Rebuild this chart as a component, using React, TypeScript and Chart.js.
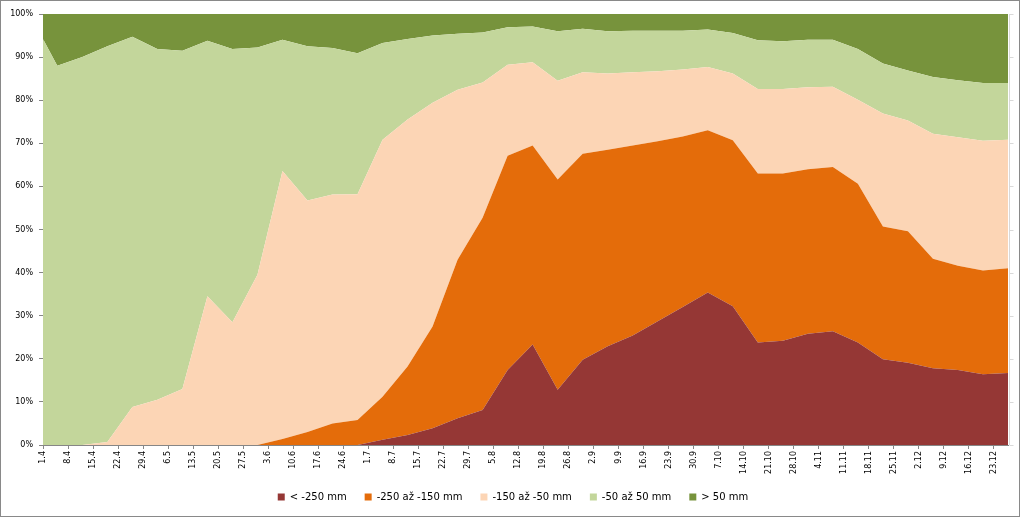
import React, { useEffect, useRef } from "react";
import { Chart, registerables } from "chart.js";

Chart.register(...registerables);

// Dates of the data points (day.month)
const pointDates = [
  "1.4", "5.4", "12.4", "19.4", "26.4", "3.5", "10.5", "17.5", "24.5", "31.5",
  "7.6", "14.6", "21.6", "28.6", "5.7", "12.7", "19.7", "26.7", "2.8", "9.8",
  "16.8", "23.8", "30.8", "6.9", "13.9", "20.9", "27.9", "4.10", "11.10", "18.10",
  "25.10", "1.11", "8.11", "15.11", "22.11", "29.11", "6.12", "13.12", "20.12", "27.12",
];

// Axis tick labels (weekly)
const tickLabels = [
  "1.4", "8.4", "15.4", "22.4", "29.4", "6.5", "13.5", "20.5", "27.5", "3.6",
  "10.6", "17.6", "24.6", "1.7", "8.7", "15.7", "22.7", "29.7", "5.8", "12.8",
  "19.8", "26.8", "2.9", "9.9", "16.9", "23.9", "30.9", "7.10", "14.10", "21.10",
  "28.10", "4.11", "11.11", "18.11", "25.11", "2.12", "9.12", "16.12", "23.12",
];

const seriesNames = ["< -250 mm", "-250 až -150 mm", "-150 až -50 mm", "-50 až 50 mm", "> 50 mm"];

const below250 = [
  0, 0, 0, 0, 0, 0, 0, 0, 0, 0,
  0, 0, 0, 0, 1.2, 2.3, 3.9, 6.2, 8.1, 17.4,
  23.3, 12.8, 19.8, 22.9, 25.4, 28.7, 32.0, 35.4, 32.2, 23.8,
  24.2, 25.8, 26.4, 23.8, 19.9, 19.1, 17.8, 17.4, 16.4, 16.7,
];
const from250to150 = [
  0, 0, 0, 0, 0, 0, 0, 0, 0, 0,
  1.4, 3.0, 5.0, 5.8, 10.0, 15.9, 23.6, 36.8, 44.6, 49.7,
  46.2, 48.8, 47.8, 45.6, 44.1, 41.8, 39.6, 37.6, 38.5, 39.2,
  38.8, 38.2, 38.1, 36.8, 30.8, 30.5, 25.4, 24.2, 24.1, 24.3,
];
const from150to50 = [
  0, 0, 0, 0.7, 8.8, 10.5, 13.0, 34.5, 28.5, 39.5,
  62.2, 53.7, 53.1, 52.4, 59.6, 57.3, 51.9, 39.4, 31.4, 21.1,
  19.3, 22.9, 18.9, 17.7, 17.0, 16.2, 15.5, 14.7, 15.5, 19.6,
  19.6, 19.0, 18.6, 19.5, 26.2, 25.7, 29.0, 29.8, 30.1, 29.8,
];
const from50to50 = [
  94.2, 88.0, 90.0, 91.8, 85.9, 81.4, 78.5, 59.3, 63.4, 52.7,
  30.4, 35.8, 34.0, 32.7, 22.5, 18.7, 15.6, 13.0, 11.6, 8.7,
  8.3, 11.5, 10.1, 9.8, 9.6, 9.4, 9.0, 8.7, 9.4, 11.3,
  11.1, 11.0, 10.9, 11.8, 11.6, 11.6, 13.2, 13.2, 13.4, 13.2,
];
const above50 = [
  5.8, 12.0, 10.0, 7.5, 5.3, 8.1, 8.5, 6.2, 8.1, 7.8,
  6.0, 7.5, 7.9, 9.1, 6.7, 5.8, 5.0, 4.6, 4.3, 3.1,
  2.9, 4.0, 3.4, 4.0, 3.9, 3.9, 3.9, 3.6, 4.4, 6.1,
  6.3, 6.0, 6.0, 8.1, 11.5, 13.1, 14.6, 15.4, 16.0, 16.0,
];

const seriesValues = [below250, from250to150, from150to50, from50to50, above50];
const seriesColors = ["#953735", "#E46C0A", "#FCD5B5", "#C3D69B", "#77933C"];

const dayOffset = (s: string) => {
  const [d, m] = s.split(".").map(Number);
  return Math.round((Date.UTC(2001, m - 1, d) - Date.UTC(2001, 3, 1)) / 86400000);
};

const framePlugin = {
  id: "frame",
  afterLayout(chart: any) {
    const lg = chart.legend;
    if (lg) {
      lg.left += 9;
      lg.right += 9;
    }
  },
  beforeDraw(chart: any) {
    const { ctx, width, height } = chart;
    ctx.save();
    ctx.fillStyle = "#ffffff";
    ctx.fillRect(0, 0, width, height);
    ctx.restore();
  },
  afterDraw(chart: any) {
    const { ctx, chartArea } = chart;
    ctx.save();
    ctx.strokeStyle = "#d9d9d9";
    ctx.lineWidth = 1;
    const x = Math.round(chartArea.right) + 1.5;
    ctx.beginPath();
    ctx.moveTo(x, chartArea.top);
    ctx.lineTo(x, chartArea.bottom);
    const yScale = chart.scales.y;
    for (let v = 0; v <= 100; v += 10) {
      const y = Math.round(yScale.getPixelForValue(v)) + 0.5;
      ctx.moveTo(x, y);
      ctx.lineTo(x + 4, y);
    }
    ctx.stroke();
    ctx.strokeStyle = "#898989";
    ctx.strokeRect(0.5, 0.5, 1019, 516);
    ctx.restore();
  },
};

export default function App() {
  const ref = useRef<HTMLCanvasElement>(null);

  useEffect(() => {
    document.body.style.margin = "0";
    const canvas = ref.current;
    if (!canvas) return;
    const xs = pointDates.map(dayOffset);
    const tickDays = tickLabels.map(dayOffset);
    const datasets = seriesNames.map((name, k) => ({
      label: name,
      data: seriesValues[k].map((v, i) => ({ x: xs[i], y: v })),
      backgroundColor: seriesColors[k],
      borderColor: seriesColors[k],
      borderWidth: 0,
      pointRadius: 0,
      tension: 0,
      fill: k === 0 ? "origin" : "-1",
    }));

    const chart = new Chart(canvas, {
      type: "line",
      data: { datasets: datasets as any },
      options: {
        responsive: false,
        animation: false,
        events: [],
        font: { family: "'DejaVu Sans', sans-serif" } as any,
        layout: { padding: { top: 14, right: 16, left: 0, bottom: 6 } },
        plugins: {
          legend: {
            position: "bottom",
            labels: {
              boxWidth: 7,
              boxHeight: 7,
              padding: 18,
              color: "#000",
              font: { family: "'DejaVu Sans', sans-serif", size: 10 },
            },
          },
          tooltip: { enabled: false },
        },
        scales: {
          x: {
            type: "linear",
            min: 0,
            max: dayOffset(pointDates[pointDates.length - 1]),
            afterBuildTicks: (scale: any) => {
              scale.ticks = tickDays.map((v) => ({ value: v }));
            },
            afterFit: (scale: any) => {
              scale.height = 29;
            },
            ticks: {
              autoSkip: false,
              minRotation: 90,
              maxRotation: 90,
              padding: 2,
              color: "#000",
              font: { family: "'DejaVu Sans', sans-serif", size: 8 },
              callback: (_v: any, i: number) => tickLabels[i],
            },
            grid: { drawOnChartArea: false, drawTicks: true, tickLength: 4, color: "#868686" },
            border: { color: "#868686" },
          },
          y: {
            stacked: true,
            min: 0,
            max: 100,
            afterFit: (scale: any) => {
              scale.width = 43;
            },
            ticks: {
              stepSize: 10,
              padding: 6,
              color: "#000",
              font: { family: "'DejaVu Sans', sans-serif", size: 8 },
              callback: (v: any) => v + "%",
            },
            grid: { drawOnChartArea: false, drawTicks: true, tickLength: 4, color: "#868686" },
            border: { color: "#868686" },
          },
        },
      } as any,
      plugins: [framePlugin],
    });
    return () => chart.destroy();
  }, []);

  return (
    <div style={{ width: 1024, height: 518 }}>
      <canvas ref={ref} width={1024} height={518} style={{ display: "block" }} />
    </div>
  );
}
